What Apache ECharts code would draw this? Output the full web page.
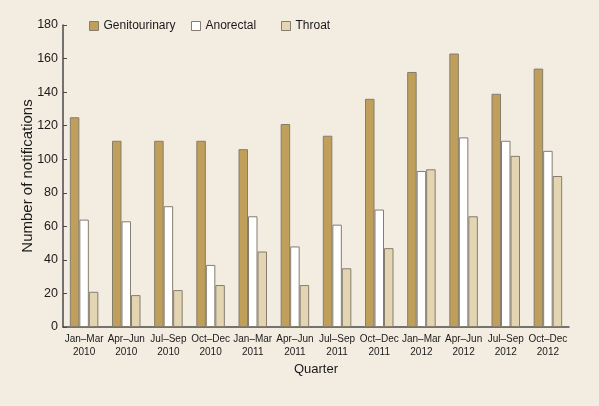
<!DOCTYPE html>
<html>
<head>
<meta charset="utf-8">
<script src="https://cdn.jsdelivr.net/npm/echarts@6/dist/echarts.min.js"></script>
<style>
html,body{margin:0;padding:0;background:#F3ECE1;}
#c{width:599px;height:406px;}
</style>
</head>
<body>
<div id="c"></div>
<script>
const categories = ['Jan–Mar\n2010','Apr–Jun\n2010','Jul–Sep\n2010','Oct–Dec\n2010','Jan–Mar\n2011','Apr–Jun\n2011','Jul–Sep\n2011','Oct–Dec\n2011','Jan–Mar\n2012','Apr–Jun\n2012','Jul–Sep\n2012','Oct–Dec\n2012'];
const genitourinary = [125,111,111,111,106,121,114,136,152,163,139,154];
const anorectal = [64,63,72,37,66,48,61,70,93,113,111,105];
const throat = [21,19,22,25,45,25,35,47,94,66,102,90];
const seriesNames = ['Genitourinary','Anorectal','Throat'];
const colors = ['#BF9F5A','#FFFFFF','#E4D5B2'];

const font = '"Liberation Sans",Arial,sans-serif';
const chart = echarts.init(document.getElementById('c'));
const legendLefts = [89, 191, 281];
const mk = (name, data, i) => ({
  name, type:'bar', data, barWidth:9.5, barGap:'0%',
  itemStyle:{color:colors[i], borderColor:'#857d6e', borderWidth:1},
  emphasis:{disabled:true}
});
chart.setOption({
  backgroundColor:'#F3ECE1',
  animation:false,
  legend: seriesNames.map((n,i)=>({
    data:[n], left:legendLefts[i], top:20, itemWidth:9, itemHeight:9, itemGap:0,
    icon:'rect', padding:0,
    itemStyle:{borderColor:'#857d6e', borderWidth:1},
    textStyle:{fontFamily:font, fontSize:12, color:'#1a1a1a', padding:[0,0,0,0]}
  })),
  grid:{left:63, right:30, top:25, bottom:79},
  xAxis:{
    type:'category', data:categories,
    name:'Quarter', nameLocation:'middle', nameGap:36, nameMoveOverlap:false,
    nameTextStyle:{fontFamily:font, fontSize:13, color:'#1a1a1a'},
    axisLine:{lineStyle:{color:'#4a4a4a', width:1.5}},
    axisTick:{show:false},
    axisLabel:{fontFamily:font, fontSize:10, color:'#1a1a1a', interval:0, lineHeight:13, margin:6}
  },
  yAxis:{
    type:'value', min:0, max:180, interval:20,
    name:'Number of notifications', nameLocation:'middle', nameGap:28, nameMoveOverlap:false,
    nameTextStyle:{fontFamily:font, fontSize:15, color:'#1a1a1a'},
    axisLine:{show:true, lineStyle:{color:'#4a4a4a', width:1.5}},
    axisTick:{show:true, inside:true, length:4, lineStyle:{color:'#4a4a4a'}},
    splitLine:{show:false},
    axisLabel:{fontFamily:font, fontSize:12.5, color:'#1a1a1a', margin:5}
  },
  series:[mk(seriesNames[0],genitourinary,0), mk(seriesNames[1],anorectal,1), mk(seriesNames[2],throat,2)]
});
</script>
</body>
</html>
